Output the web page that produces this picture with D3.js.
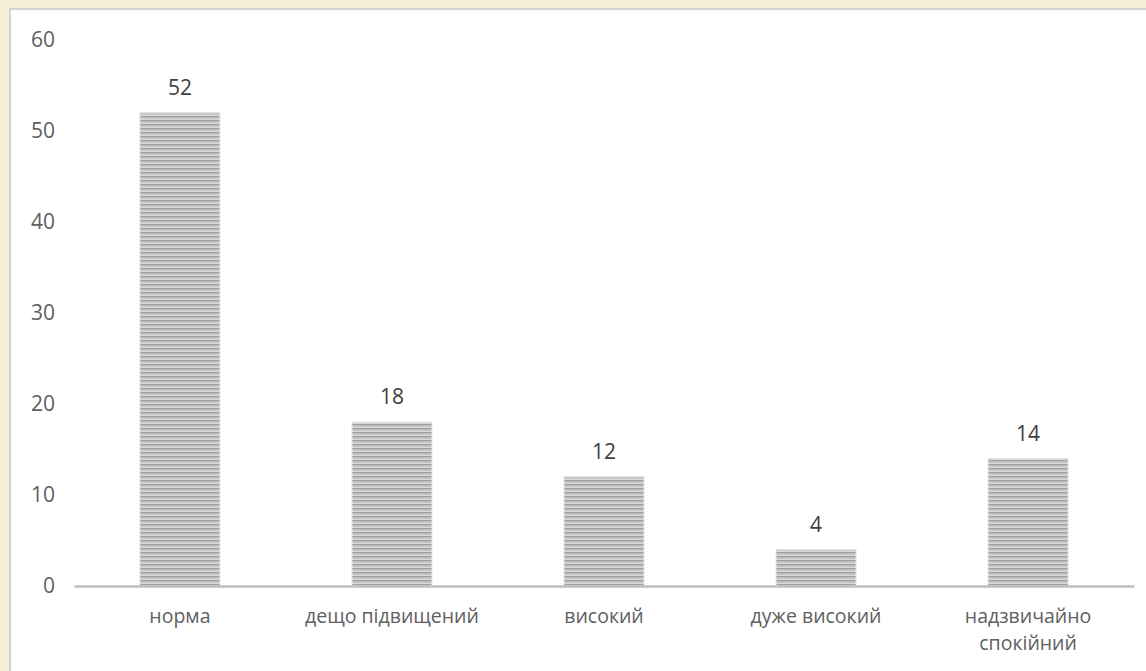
<!DOCTYPE html>
<html><head><meta charset="utf-8">
<script src="https://cdn.jsdelivr.net/npm/d3@7"></script>
<style>
html,body{margin:0;padding:0;background:#f7f0d9;}
svg{display:block;}
</style></head>
<body>
<svg id="chart" width="1146" height="671"></svg>
<script>
const categories = [["норма"], ["дещо підвищений"], ["високий"], ["дуже високий"], ["надзвичайно", "спокійний"]];
const values = [52, 18, 12, 4, 14];
const yTicks = [0, 10, 20, 30, 40, 50, 60];

const W = 1146, H = 671;
const svg = d3.select("#chart");
const font = "'Open Sans', sans-serif";
const txt = "#606060";

// panel
svg.append("rect").attr("x", 0).attr("y", 0).attr("width", W).attr("height", H).attr("fill", "#f7f0d9");
svg.append("rect").attr("x", 9).attr("y", 8).attr("width", W - 9).attr("height", H - 8).attr("fill", "#d4d4d4");
svg.append("rect").attr("x", 11).attr("y", 10).attr("width", W - 11).attr("height", H - 10).attr("fill", "#fbfbfb");
svg.append("rect").attr("x", 13).attr("y", 12).attr("width", W - 13).attr("height", H - 12).attr("fill", "#ffffff");

// stripe pattern
const defs = svg.append("defs");
const pat = defs.append("pattern").attr("id", "stripes").attr("patternUnits", "userSpaceOnUse")
  .attr("x", 0).attr("y", 0).attr("width", 10).attr("height", 4);
pat.append("rect").attr("x", 0).attr("y", 0).attr("width", 10).attr("height", 4).attr("fill", "#d8d8d8");
pat.append("rect").attr("x", 0).attr("y", 0).attr("width", 10).attr("height", 1.5).attr("fill", "#9f9f9f");
pat.append("rect").attr("x", 0).attr("y", 1.5).attr("width", 10).attr("height", 1).attr("fill", "#bdbdbd");

const x = d3.scaleBand().domain(d3.range(values.length)).range([74, 1134]).paddingInner(0.623).paddingOuter(0.311);
const y = d3.scaleLinear().domain([0, 60]).range([586, 40]);

// y axis labels
const yAxis = d3.axisLeft(y).tickValues(yTicks).tickSize(0).tickPadding(0);
const ya = svg.append("g").attr("transform", "translate(55,0)").call(yAxis);
ya.select(".domain").remove();
ya.selectAll("text").attr("fill", txt).style("font-family", font).style("font-size", "21px");

// bars
svg.append("g").selectAll("rect").data(values).join("rect")
  .attr("x", (d, i) => x(i)).attr("width", x.bandwidth())
  .attr("y", d => y(d)).attr("height", d => y(0) - y(d))
  .attr("fill", "url(#stripes)");

// bar edges lighter
svg.append("g").selectAll("rect").data(values).join("rect")
  .attr("x", (d, i) => x(i)).attr("width", x.bandwidth())
  .attr("y", d => y(d)).attr("height", d => y(0) - y(d))
  .attr("fill", "none").attr("stroke", "#e2e2e2").attr("stroke-width", 1);

// x axis line
const xAxis = d3.axisBottom(x).tickSize(0).tickFormat("");
const xa = svg.append("g").attr("transform", `translate(0,${y(0)})`).call(xAxis);
xa.select(".domain").attr("stroke", "#bfbfbf").attr("stroke-width", 2.5);

// category labels
const cl = svg.append("g").selectAll("text").data(categories).join("text")
  .attr("text-anchor", "middle").attr("fill", txt)
  .style("font-family", font).style("font-size", "19.5px")
  .attr("x", (d, i) => x(i) + x.bandwidth() / 2).attr("y", 623);
cl.selectAll("tspan").data(d => d).join("tspan")
  .attr("x", function () { return d3.select(this.parentNode).attr("x"); })
  .attr("dy", (d, j) => j === 0 ? 0 : 26.8).text(d => d);

// value labels
svg.append("g").selectAll("text").data(values).join("text")
  .attr("text-anchor", "middle").attr("fill", "#404040")
  .style("font-family", font).style("font-size", "21px")
  .attr("x", (d, i) => x(i) + x.bandwidth() / 2).attr("y", d => y(d) - 18)
  .text(d => d);
</script>
</body></html>
